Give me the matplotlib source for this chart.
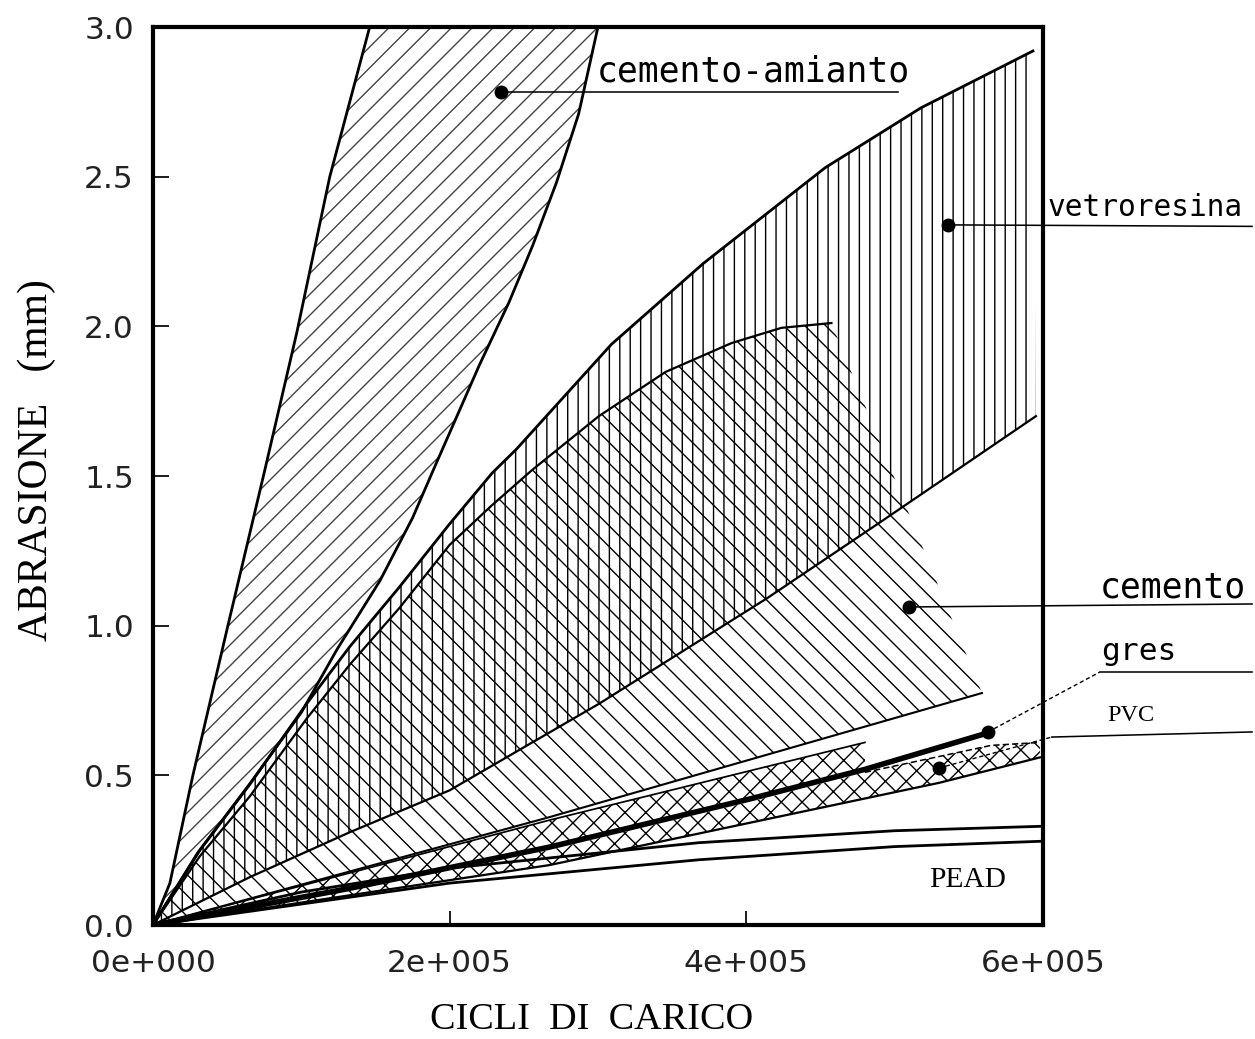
import numpy as np
import matplotlib
matplotlib.use('Agg')
import matplotlib.pyplot as plt

plt.rcParams['hatch.linewidth'] = 0.8

# ---------------- data ----------------
# cemento-amianto band
ca_left_x = [0, 11400, 26900, 50500, 75400, 97000, 119200, 146100]
ca_left_y = [0, 0.14, 0.50, 1.00, 1.52, 1.98, 2.50, 3.00]
ca_right_x = [0, 30000, 65000, 100000, 124000, 153000, 175000, 189000, 220000, 240000, 256000, 272000, 287000, 300000]
ca_right_y = [0, 0.24, 0.47, 0.71, 0.92, 1.15, 1.36, 1.52, 1.87, 2.08, 2.27, 2.48, 2.71, 3.00]

# vetroresina band
vr_up_x = [0, 31600, 65300, 103700, 132700, 166300, 200000, 228700, 245100, 309100, 371000, 453200, 517800, 593300]
vr_up_y = [0, 0.25, 0.47, 0.74, 0.93, 1.13, 1.34, 1.51, 1.59, 1.94, 2.21, 2.53, 2.73, 2.92]
vr_lo_x = [0, 65300, 132700, 200000, 301000, 413500, 491600, 595300]
vr_lo_y = [0, 0.16, 0.31, 0.45, 0.74, 1.09, 1.35, 1.70]

# cemento band
ce_up_x = [0, 31600, 65300, 103700, 132700, 166300, 200000, 228000, 255600, 300600, 345700, 390000, 423700, 457400]
ce_up_y = [0, 0.23, 0.43, 0.69, 0.87, 1.06, 1.27, 1.40, 1.52, 1.70, 1.848, 1.944, 1.995, 2.011]
ce_lo_x = [0, 267000, 558900]
ce_lo_y = [0, 0.36, 0.775]

# gres
gr_line_x = [0, 130000, 267000, 401500, 480000, 565000]
gr_line_y = [0, 0.12, 0.26, 0.42, 0.52, 0.645]
gr_up_x = [0, 267000, 480000]
gr_up_y = [0, 0.35, 0.61]

# PVC band
pvc_up_x = [0, 267000, 401500, 480000, 565000, 598000]
pvc_up_y = [0, 0.25, 0.41, 0.51, 0.60, 0.61]
pvc_lo_x = [0, 267000, 530000, 598000]
pvc_lo_y = [0, 0.20, 0.475, 0.56]

# PEAD band (two lines)
pead_up_x = [0, 100000, 200000, 368000, 500000, 600000]
pead_up_y = [0, 0.11, 0.19, 0.275, 0.315, 0.33]
pead_lo_x = [0, 100000, 200000, 368000, 500000, 600000]
pead_lo_y = [0, 0.07, 0.14, 0.218, 0.262, 0.28]

x_ticks = [0, 200000, 400000, 600000]
x_tick_labels = ['0e+000', '2e+005', '4e+005', '6e+005']
y_ticks = [0.0, 0.5, 1.0, 1.5, 2.0, 2.5, 3.0]
y_tick_labels = ['0.0', '0.5', '1.0', '1.5', '2.0', '2.5', '3.0']

# label marker dots
dot_ca = (234700, 2.783)
dot_vr = (536000, 2.339)
dot_ce = (509800, 1.0625)
dot_gr = (563000, 0.645)
dot_pvc = (530000, 0.5245)

# ---------------- figure ----------------
fig = plt.figure(figsize=(10.04, 8.312), dpi=125)
ax = fig.add_axes([0.1219, 0.1097, 0.7091, 0.8643])
ax.set_xlim(0, 600000)
ax.set_ylim(0, 3.0)

K = 'black'

def band(xa, ya, xb, yb, hatch, z, col=K):
    xs = list(xa) + list(xb)[::-1]
    ys = list(ya) + list(yb)[::-1]
    ax.fill(xs, ys, facecolor='none', edgecolor=col, linewidth=0, hatch=hatch, zorder=z)

# cemento-amianto
band(ca_left_x, ca_left_y, ca_right_x, ca_right_y, '//', 2, col='#444444')
ax.plot(ca_left_x, ca_left_y, color=K, lw=1.6, zorder=4)
ax.plot(ca_right_x, ca_right_y, color=K, lw=1.6, zorder=4)

# vetroresina
band(vr_up_x, vr_up_y, vr_lo_x, vr_lo_y, '||', 2)
ax.plot(vr_up_x, vr_up_y, color=K, lw=1.6, zorder=4)
ax.plot(vr_lo_x, vr_lo_y, color=K, lw=1.3, zorder=4)

# cemento
band(ce_up_x, ce_up_y, ce_lo_x, ce_lo_y, '\\\\', 2)
ax.plot(ce_up_x, ce_up_y, color=K, lw=1.3, zorder=4)
ax.plot(ce_lo_x, ce_lo_y, color=K, lw=1.2, zorder=4)

# gres
band(gr_up_x, gr_up_y, gr_line_x[:5], gr_line_y[:5], 'xx', 2)
ax.plot(gr_up_x, gr_up_y, color=K, lw=1.0, zorder=4)
ax.plot(gr_line_x, gr_line_y, color=K, lw=3.2, zorder=5, solid_capstyle='round')

# PVC
band(pvc_up_x, pvc_up_y, pvc_lo_x, pvc_lo_y, 'xx', 2)
ax.plot(pvc_lo_x, pvc_lo_y, color=K, lw=1.3, zorder=4)
ax.plot(pvc_up_x[3:], pvc_up_y[3:], color=K, lw=0.9, ls=(0, (4, 2)), zorder=4)

# PEAD
ax.plot(pead_up_x, pead_up_y, color=K, lw=1.6, zorder=4)
ax.plot(pead_lo_x, pead_lo_y, color=K, lw=1.6, zorder=4)

# dots
for d in (dot_ca, dot_vr, dot_ce, dot_gr, dot_pvc):
    ax.plot([d[0]], [d[1]], 'o', color=K, ms=7, zorder=6, clip_on=False)

mono = 'DejaVu Sans Mono'
serif = 'Liberation Serif'

# leader lines and labels
ax.plot([dot_ca[0], 502000], [dot_ca[1], dot_ca[1]], color=K, lw=0.9, zorder=6, clip_on=False)
ax.text(299300, 2.795, 'cemento-amianto', fontsize=20, family=mono, ha='left', va='bottom', zorder=7)

ax.plot([dot_vr[0], 741000], [dot_vr[1], dot_vr[1] - 0.005], color=K, lw=0.9, zorder=6, clip_on=False)
ax.text(603300, 2.35, 'vetroresina', fontsize=17, family=mono, ha='left', va='bottom', clip_on=False)

ax.plot([dot_ce[0], 741000], [dot_ce[1], dot_ce[1] + 0.01], color=K, lw=0.9, zorder=6, clip_on=False)
ax.text(638000, 1.07, 'cemento', fontsize=20, family=mono, ha='left', va='bottom', clip_on=False)

ax.plot([dot_gr[0], 638300], [dot_gr[1], 0.845], color=K, lw=0.8, ls=(0, (3, 2)), zorder=6, clip_on=False)
ax.plot([638300, 741000], [0.845, 0.845], color=K, lw=0.9, zorder=6, clip_on=False)
ax.text(639000, 0.865, 'gres', fontsize=18, family=mono, ha='left', va='bottom', clip_on=False)

ax.plot([dot_pvc[0], 606000], [dot_pvc[1], 0.628], color=K, lw=0.8, ls=(0, (3, 2)), zorder=6, clip_on=False)
ax.plot([606000, 741000], [0.628, 0.645], color=K, lw=0.9, zorder=6, clip_on=False)
ax.text(659000, 0.70, 'PVC', fontsize=14, family=serif, ha='center', va='center', clip_on=False)

ax.text(549500, 0.15, 'PEAD', fontsize=17, family=serif, ha='center', va='center')

# axes styling
for s in ax.spines.values():
    s.set_linewidth(2.4)
    s.set_zorder(8)
ax.set_xticks(x_ticks)
ax.set_xticklabels(x_tick_labels, family='DejaVu Sans', fontsize=18, color='#222222')
ax.set_yticks(y_ticks)
ax.set_yticklabels(y_tick_labels, family='DejaVu Sans', fontsize=18, color='#222222')
ax.tick_params(axis='x', direction='in', length=8, width=1.0, pad=14)
ax.tick_params(axis='y', direction='in', length=9, width=1.0, pad=11)

fig.text(592 / 1255, 1 - 1020 / 1039, 'CICLI  DI  CARICO', family=serif, fontsize=22,
         ha='center', va='center')
fig.text(37 / 1255, 1 - 460 / 1039, 'ABRASIONE   (mm)', family=serif, fontsize=24,
         ha='center', va='center', rotation=90)

fig.savefig('out.png', dpi=125)
